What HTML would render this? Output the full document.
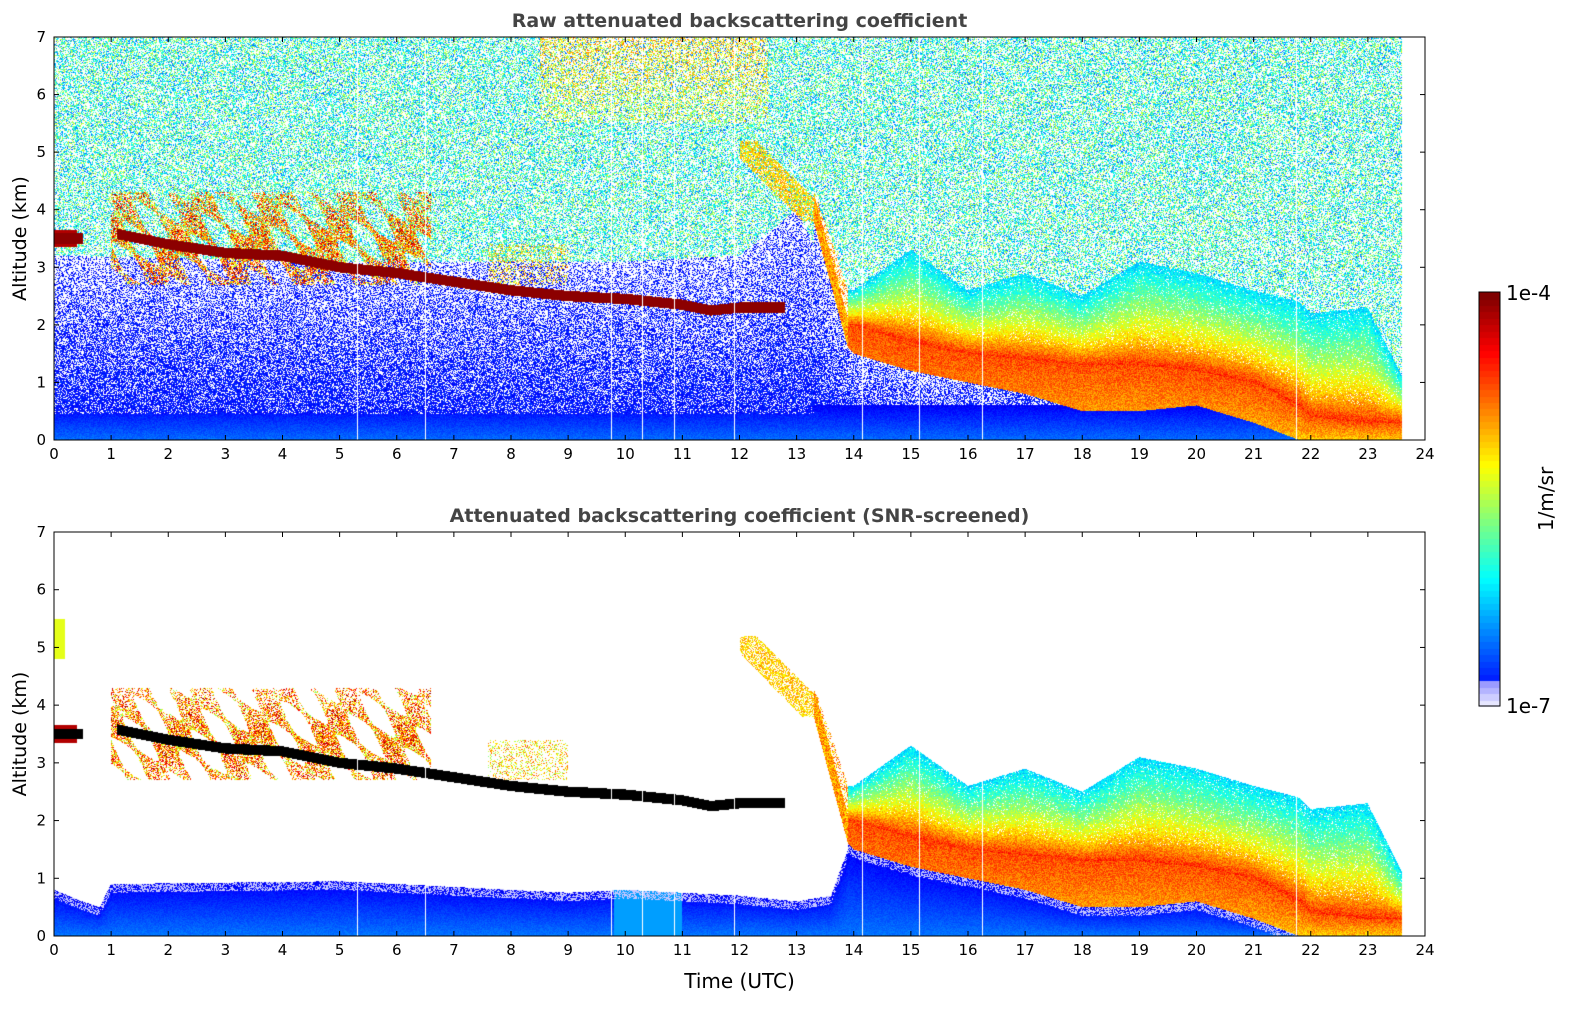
<!DOCTYPE html>
<html><head><meta charset="utf-8">
<style>
body{margin:0;background:#fff;width:1595px;height:1020px;overflow:hidden;font-family:"DejaVu Sans","Liberation Sans",sans-serif;}
#wrap{position:relative;width:1595px;height:1020px;}
canvas{position:absolute;left:0;top:0;}
svg{position:absolute;left:0;top:0;font-family:"DejaVu Sans","Liberation Sans",sans-serif;}
</style></head><body>
<div id="wrap">
<canvas id="cv" width="1595" height="1020"></canvas>
<svg id="sv" width="1595" height="1020"></svg>
</div>
<script>
// ---- data ----
const cloudT   = [0,0.5,1,1.5,2,3,4,5,6,7,8,9,10,11,11.5,12,12.7];
const cloudAlt = [3.5,3.5,3.6,3.5,3.4,3.25,3.2,3.0,2.9,2.75,2.6,2.5,2.45,2.35,2.25,2.3,2.3];
const pblT     = [13.3,13.6,13.9,14,15,16,17,18,19,20,21,21.8,22,23,23.6];
const pblCenter= [4.0,3.0,2.0,2.0,1.7,1.5,1.4,1.3,1.3,1.2,1.0,0.6,0.4,0.3,0.3];
const pblTop   = [4.3,3.5,2.6,2.6,3.3,2.6,2.9,2.5,3.1,2.9,2.6,2.4,2.2,2.3,1.1];
const pblBot   = [3.8,2.7,1.6,1.5,1.2,1.0,0.8,0.5,0.5,0.6,0.3,0,0,0,0];
const noiseTopT= [0,5,10,12,13,13.5,14,15,17,20,23.6];
const noiseLow = [3.2,3.1,3.1,3.2,4.0,3.0,1.6,1.3,1.2,1.2,1.1];
const blueTopT = [0,0.5,0.8,1,5,9,10,12,13,13.6,13.9];
const blueTop  = [0.8,0.6,0.5,0.9,0.95,0.75,0.8,0.7,0.6,0.7,1.5];
const gaps     = [5.3,6.5,9.75,10.3,10.85,11.9,14.15,15.15,16.25,21.75];
const xTicks   = [0,1,2,3,4,5,6,7,8,9,10,11,12,13,14,15,16,17,18,19,20,21,22,23,24];
const yTicks   = [0,1,2,3,4,5,6,7];
const tEnd = 23.6;

const X0=54,X1=1425;
const panels=[{y0:37,y1:440,screened:false},{y0:532,y1:936,screened:true}];
const xs=t=>X0+(X1-X0)*t/24;

function interp(T,V,t){if(t<=T[0])return V[0];for(let i=1;i<T.length;i++){if(t<=T[i]){const f=(t-T[i-1])/(T[i]-T[i-1]);return V[i-1]+f*(V[i]-V[i-1]);}}return V[V.length-1];}
function jet(v){v=Math.max(0,Math.min(1,v));
 const r=Math.min(1,Math.max(0,1.5-Math.abs(4*v-3))),g=Math.min(1,Math.max(0,1.5-Math.abs(4*v-2))),b=Math.min(1,Math.max(0,1.5-Math.abs(4*v-1)));
 return [r*255|0,g*255|0,b*255|0];}
let seed=12345;function rnd(){seed=(seed*1103515245+12345)&0x7fffffff;return seed/0x7fffffff;}
function streak(t,z){ // diagonal streak texture for cloud field
 const s=Math.sin((t*6+z*5)*2.1)+Math.sin((t*3.7-z*2)*1.3);return s;}

const cv=document.getElementById('cv');const ctx=cv.getContext('2d');
ctx.fillStyle='#fff';ctx.fillRect(0,0,1595,1020);
const gapPx=gaps.map(g=>Math.round(xs(g))-X0);
for(const p of panels){
 const W=X1-X0,H=p.y1-p.y0;const img=ctx.createImageData(W,H);const d=img.data;
 for(let px=0;px<W;px++){
  const t=24*(px+0.5)/W;
  if(t>tEnd)continue;
  if(gapPx.includes(px))continue;
  const ca=interp(cloudT,cloudAlt,t),nl=interp(noiseTopT,noiseLow,t);
  const pc=interp(pblT,pblCenter,t),pt=interp(pblT,pblTop,t),pb=interp(pblT,pblBot,t);
  const bt=interp(blueTopT,blueTop,t);
  for(let py=0;py<H;py++){
   const z=7*(H-py-0.5)/H;let v=-1;
   if(t>=13.3 && z>=pb && z<=pt){
     if(z<=pc) v=0.8-0.12*(pc-z)/Math.max(pc,0.3);
     else v=0.84-0.5*Math.pow((z-pc)/(pt-pc),0.8);
     v+= (rnd()-0.5)*0.12;
     if(t<13.9){v=0.72+(rnd()-0.5)*0.2; if(z-pb>0.5 && rnd()<0.6) v=-1;}
     if(v>=0 && z>pc+0.3 && rnd()<0.08) v=-1;
   } else if(t<12.8 && Math.abs(z-ca)<0.09 && (t<0.5||t>1.1)){
     v=1.0; if(p.screened)v=-2;
   } else if(t>1&&t<6.6 && z>2.7 && z<4.3 && streak(t,z)>-0.2 && rnd()<(0.8-Math.abs(z-3.4)*0.5)){
     v=0.5+rnd()*0.42+0.1*streak(t,z)/2;
   } else if(t<0.4&&z>3.35&&z<3.65){v=0.95;}
   else if(t>7.6&&t<9&&z>2.7&&z<3.4&&rnd()<0.25){v=0.5+rnd()*0.3;}
   else if(t>12&&t<13.4&&z>3.8&&z<5.2&&Math.abs(z-(5.2-(t-12)*1.0))<0.3&&rnd()<0.6){v=0.6+rnd()*0.15;}
   else {
     if(!p.screened){
       if(z<0.45 || (t>13.3&&z<pb&&z<0.6)){ v=0.15+0.08*(1-z/0.45)+(rnd()-0.5)*0.05;}
       else if(z<nl || (t>=13.3&&z<pb)){ const lim=t>=13.3?Math.max(pb,nl):nl;const pr=0.85-0.55*(z/lim); if(rnd()<pr)v=0.11+rnd()*0.07; }
       else { const pr=0.42+0.08*(z/7); if(rnd()<pr){ let base=0.42; if(t>8.5&&t<12.5&&z>5.5)base=0.5+0.08*(z-5.5); v=base+rnd()*0.3-0.12; if(rnd()<0.2)v=0.2+rnd()*0.1;} }
     } else {
       const lb=t<13.9?bt:pb;
       if(z<lb){ v=0.12+0.12*(1-z/Math.max(lb,0.1))+(rnd()-0.5)*0.04; if(t>9.8&&t<11&&z<0.8)v=0.28; if(z>lb-0.15&&rnd()<0.5)v=0.04;}
       else if(t<0.2&&z>4.8&&z<5.5){v=0.6;}
     }
   }
   if(v===-1)continue;
   const i=(py*W+px)*4;
   let c;
   if(v===-2)c=[0,0,0]; else if(v===1.0)c=[140,0,0]; else if(v<0.08)c=[200,200,255]; else c=jet(v);
   d[i]=c[0];d[i+1]=c[1];d[i+2]=c[2];d[i+3]=255;
  }
 }
 ctx.putImageData(img,X0,p.y0);
}
// colorbar
const CB={x:1479,w:21,y0:292,y1:706};
for(let k=0;k<64;k++){const v=k/63;const y1=CB.y1-(CB.y1-CB.y0)*k/64,y2=CB.y1-(CB.y1-CB.y0)*(k+1)/64;
 let c=jet(0.1+0.9*v); if(k<4){const a=k/4;c=[230-100*a|0,230-100*a|0,255];}
 ctx.fillStyle=`rgb(${c[0]},${c[1]},${c[2]})`;ctx.fillRect(CB.x,Math.floor(y2),CB.w,Math.ceil(y1-y2)+1);}

// axes
const sv=document.getElementById('sv');const NS='http://www.w3.org/2000/svg';
function el(tag,attrs,txt){const e=document.createElementNS(NS,tag);for(const k in attrs)e.setAttribute(k,attrs[k]);if(txt!==undefined)e.textContent=txt;sv.appendChild(e);return e;}
const titles=['Raw attenuated backscattering coefficient','Attenuated backscattering coefficient (SNR-screened)'];
panels.forEach((p,pi)=>{
 const fr=el('rect',{x:X0,y:p.y0,width:X1-X0,height:p.y1-p.y0,fill:'none',stroke:'#000','stroke-width':1});
 
 const tt=el('text',{x:(X0+X1)/2,y:p.y0-10,'text-anchor':'middle','font-size':19,'font-weight':'bold',fill:'#444'},titles[pi]);
 
 for(const t of xTicks){const x=xs(t);
  el('line',{x1:x,x2:x,y1:p.y1,y2:p.y1-5,stroke:'#000'});el('line',{x1:x,x2:x,y1:p.y0,y2:p.y0+5,stroke:'#000'});
  const lb=el('text',{x:x,y:p.y1+19,'text-anchor':'middle','font-size':15},String(t));
  }
 for(const z of yTicks){const y=p.y1-(p.y1-p.y0)*z/7;
  el('line',{x1:X0,x2:X0+5,y1:y,y2:y,stroke:'#000'});el('line',{x1:X1,x2:X1-5,y1:y,y2:y,stroke:'#000'});
  const lb=el('text',{x:X0-8,y:y+5,'text-anchor':'end','font-size':15},String(z));
  }
 const yl=el('text',{x:0,y:0,transform:`translate(26,${(p.y0+p.y1)/2}) rotate(-90)`,'text-anchor':'middle','font-size':19},'Altitude (km)');
 
});
const xl=el('text',{x:(X0+X1)/2,y:988,'text-anchor':'middle','font-size':20},'Time (UTC)');

const cbf=el('rect',{x:CB.x,y:CB.y0,width:CB.w,height:CB.y1-CB.y0,fill:'none',stroke:'#000'});

const c1=el('text',{x:1506,y:300,'font-size':20},'1e-4');
const c2=el('text',{x:1506,y:713,'font-size':20},'1e-7');
const c3=el('text',{x:0,y:0,transform:'translate(1553,499) rotate(-90)','text-anchor':'middle','font-size':20},'1/m/sr');

</script>
</body></html>
